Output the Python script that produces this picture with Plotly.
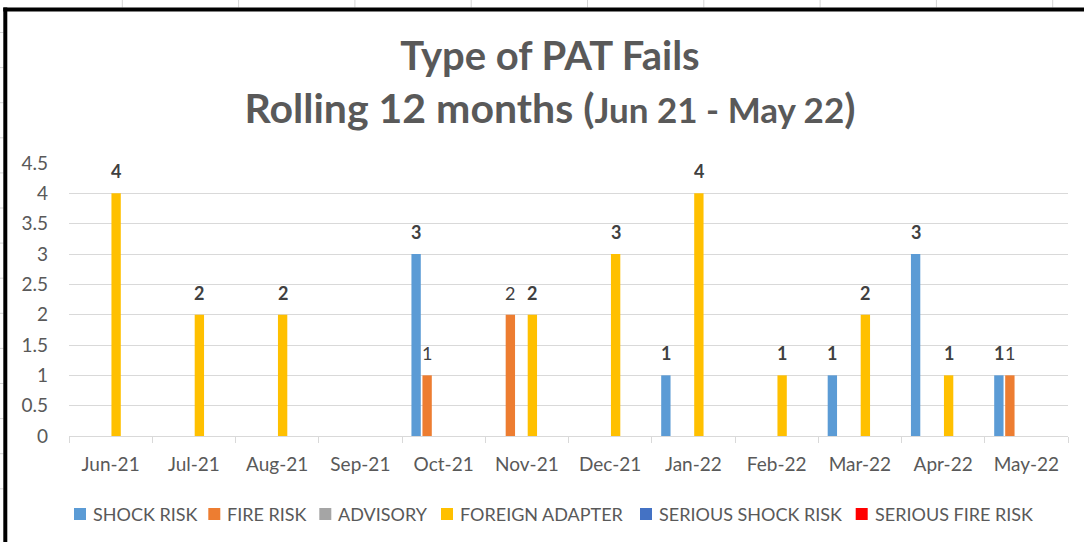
import plotly.graph_objects as go

# ---------------- data ----------------
months = ["Jun-21", "Jul-21", "Aug-21", "Sep-21", "Oct-21", "Nov-21",
          "Dec-21", "Jan-22", "Feb-22", "Mar-22", "Apr-22", "May-22"]

shock_risk = [None, None, None, None, 3, None, None, 1, None, 1, 3, 1]
fire_risk = [None, None, None, None, 1, 2, None, None, None, None, None, 1]
advisory = [None] * 12
foreign_adapter = [4, 2, 2, None, None, 2, 3, 4, 1, 2, 1, None]
serious_shock_risk = [None] * 12
serious_fire_risk = [None] * 12

series_names = ["SHOCK RISK", "FIRE RISK", "ADVISORY", "FOREIGN ADAPTER",
                "SERIOUS SHOCK RISK", "SERIOUS FIRE RISK"]
series_values = [shock_risk, fire_risk, advisory, foreign_adapter,
                 serious_shock_risk, serious_fire_risk]
series_colors = ["#5B9BD5", "#ED7D31", "#A5A5A5", "#FFC000", "#4472C4", "#FF0000"]
label_bold = [True, False, True, True, True, True]

# ---------------- layout constants ----------------
W, H = 1084, 542
ML, MR, MT, MB = 69, 16, 163, 106
BARGAP = 0.207
BARGROUPGAP = 0.15
FONT = "Lato"
TXT = "#595959"

fig = go.Figure()
for name, vals, col in zip(series_names, series_values, series_colors):
    fig.add_trace(go.Bar(name=name, x=months, y=vals, marker_color=col,
                         marker_line_width=0, showlegend=False))

plot_w = W - ML - MR
plot_h = H - MT - MB


def px_x(p):
    return (p - ML) / plot_w


def px_y(p):
    return (H - MB - p) / plot_h


# data labels (Excel "outside end" style)
cat_w = plot_w / len(months)
slot = cat_w * (1 - BARGAP) / len(series_names)
n = len(series_names)
for k, (vals, bold) in enumerate(zip(series_values, label_bold)):
    for m, v in zip(months, vals):
        if v is None:
            continue
        txt = f"<b>{v}</b>" if bold else f"{v}"
        fig.add_annotation(x=m, y=v, xref="x", yref="y", text=txt,
                           showarrow=False, yanchor="middle",
                           xshift=(k - (n - 1) / 2) * slot, yshift=22,
                           font=dict(family=FONT, size=18, color="#404040"))

shapes = []

# legend (Excel style: small square + label, single row)
legend_sq_left = [74, 208.3, 319.3, 441, 640, 855.7]
LEG_Y = 514
SQ = 12
for name, col, x0 in zip(series_names, series_colors, legend_sq_left):
    shapes.append(dict(type="rect", xref="paper", yref="paper",
                       x0=px_x(x0), x1=px_x(x0 + SQ),
                       y0=px_y(LEG_Y - SQ / 2), y1=px_y(LEG_Y + SQ / 2),
                       fillcolor=col, line=dict(width=0)))
    fig.add_annotation(x=px_x(x0 + SQ + 5), y=px_y(LEG_Y), xref="paper",
                       yref="paper", text=name, showarrow=False,
                       xanchor="left", yanchor="middle",
                       font=dict(family=FONT, size=18, color=TXT))

# spreadsheet grid lines behind the chart frame + black frame
gx = 122.3
while gx < W:
    shapes.append(dict(type="line", xref="paper", yref="paper",
                       x0=px_x(gx), x1=px_x(gx), y0=px_y(0), y1=px_y(7.5),
                       line=dict(color="#D4D4D4", width=1)))
    gx += 116.3
gy = 32.5
while gy < 500:
    shapes.append(dict(type="line", xref="paper", yref="paper",
                       x0=px_x(0), x1=px_x(3.5), y0=px_y(gy), y1=px_y(gy),
                       line=dict(color="#D4D4D4", width=1)))
    gy += 35.1
shapes.append(dict(type="line", xref="paper", yref="paper",
                   x0=px_x(5.3), x1=px_x(5.3), y0=px_y(7.5), y1=px_y(H + 2),
                   line=dict(color="#000000", width=4)))
shapes.append(dict(type="line", xref="paper", yref="paper",
                   x0=px_x(3.3), x1=px_x(W + 2), y0=px_y(9.5), y1=px_y(9.5),
                   line=dict(color="#000000", width=4)))

title_text = ("<span style='font-size:40px'><b>Type of PAT Fails</b></span><br>"
              "<span style='font-size:41px'><b>Rolling 12 months (</b></span>"
              "<span style='font-size:35px'><b>Jun 21 - May 22</b></span>"
              "<span style='font-size:41px'><b>)</b></span>")

fig.update_layout(
    width=W, height=H,
    margin=dict(l=ML, r=MR, t=MT, b=MB, pad=0, autoexpand=False),
    paper_bgcolor="white", plot_bgcolor="white",
    barmode="group", bargap=BARGAP, bargroupgap=BARGROUPGAP,
    font=dict(family=FONT, color=TXT),
    title=dict(text=title_text, x=550 / W, xanchor="center",
               yref="container", y=1 - 70 / H, yanchor="top",
               font=dict(family=FONT, size=41, color=TXT)),
    showlegend=False,
    xaxis=dict(type="category", showgrid=False, showline=True,
               linecolor="#D9D9D9", linewidth=1, ticks="outside",
               tickson="boundaries", ticklen=6, tickcolor="#D9D9D9",
               tickfont=dict(family=FONT, size=19, color=TXT),
               ticklabelstandoff=11, automargin=False),
    yaxis=dict(range=[0, 4.5], dtick=0.5, tick0=0, showgrid=True,
               gridcolor="#D9D9D9", gridwidth=1, zeroline=False,
               showline=False, ticks="",
               tickfont=dict(family=FONT, size=19, color=TXT),
               ticklabelstandoff=20, automargin=False),
    shapes=shapes,
)

fig.write_html("out.html",
               config={"displayModeBar": False},
               post_script="document.body.style.margin='0';"
                           "document.body.style.overflow='hidden';")
